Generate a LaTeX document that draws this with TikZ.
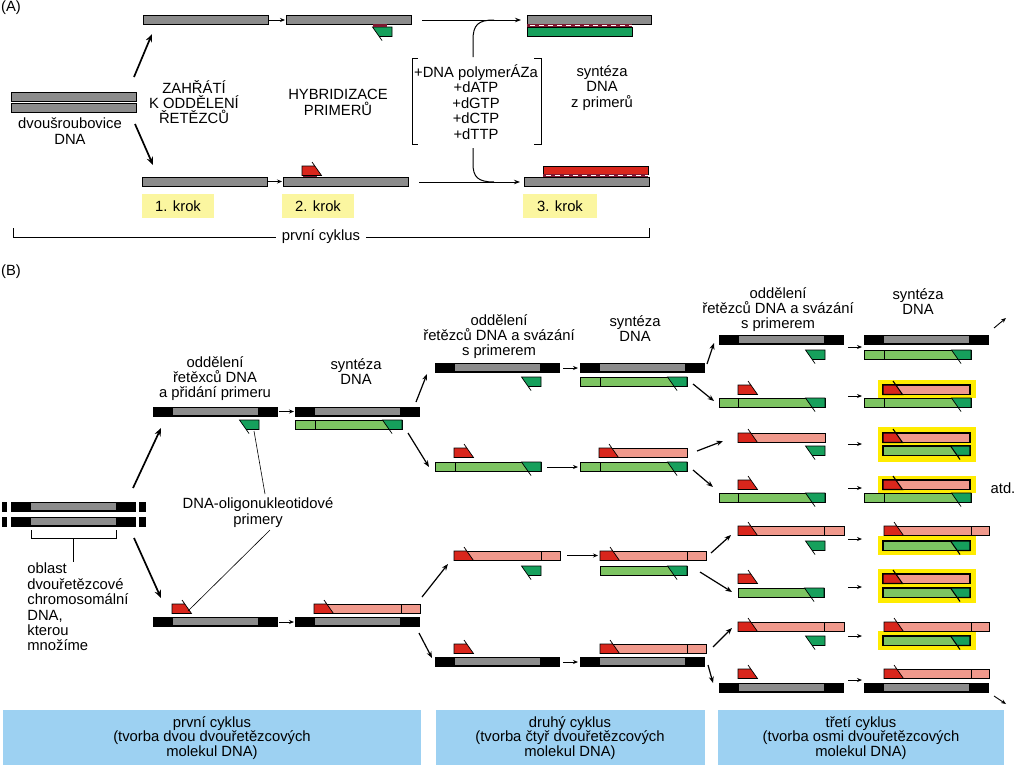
\documentclass[tikz,border=0pt]{standalone}
\usepackage{fontspec}
\setmainfont{Liberation Sans}
\usetikzlibrary{arrows.meta}
\definecolor{mygray}{HTML}{8C8C8C}
\definecolor{lgreen}{HTML}{7DC462}
\definecolor{dgreen}{HTML}{16A05C}
\definecolor{salmon}{HTML}{F0998C}
\definecolor{myred}{HTML}{D9261C}
\definecolor{hlyellow}{HTML}{FFEC00}
\definecolor{ylbox}{HTML}{FBF6A0}
\definecolor{bluebox}{HTML}{9DD1F2}
\definecolor{darkstrip}{HTML}{7D1830}
\newcommand{\tmpl}[2]{%
  \fill[black] (#1,#2) rectangle (#1+125,#2+9.5);
  \fill[mygray] (#1+20,#2+1.1) rectangle (#1+105,#2+8.4);}
\newcommand{\gprim}[2]{%
  \draw[fill=dgreen] (#1,#2) -- (#1,#2+9.5) -- (#1-12.8,#2+9.5) -- (#1-10,#2+13.5) -- (#1-19.5,#2) -- cycle;}
\newcommand{\rprim}[2]{%
  \draw[fill=myred] (#1,#2+9.5) -- (#1,#2) -- (#1+12.8,#2) -- (#1+10,#2-4) -- (#1+19.5,#2+9.5) -- cycle;}
\newcommand{\gstrand}[3]{%
  \draw[fill=lgreen] (#1,#3) rectangle (#2,#3+9.5);
  \gprim{#2}{#3}}
\newcommand{\sstrand}[3]{%
  \draw[fill=salmon] (#1,#3) rectangle (#2,#3+9.5);
  \rprim{#1}{#3}}
\newcommand{\dvd}[2]{\draw (#1,#2) -- (#1,#2+9.5);}
\begin{document}
\begin{tikzpicture}[x=1pt,y=-1pt,line width=0.7pt,
  lab/.style={font=\fontsize{14.8}{15}\selectfont, align=center, inner sep=0pt},
  sa/.style={-{Stealth[length=5pt,width=4pt]}, line width=0.9pt},
  ma/.style={-{Stealth[length=6.5pt,width=5pt]}, line width=1.2pt},
  ba/.style={-{Stealth[length=8pt,width=6.5pt]}, line width=1.7pt}]
\useasboundingbox (0,0) rectangle (1024,779);
\fill[white] (0,0) rectangle (1024,779);
% ================= PART A =================
\node[lab] (A) at (11,8) {(A)};
\draw[fill=mygray] (11,92) rectangle (136,101);
\draw[fill=mygray] (11,103) rectangle (136,112);
\node[lab, font=\fontsize{14.8}{16}\selectfont] (dsdna) at (70,131) {dvoušroubovice\\DNA};
\draw[ba] (134,77) -- (152,34);
\draw[ba] (135,124) -- (153,165);
\draw[fill=mygray] (143,15) rectangle (268,24);
\draw[sa] (269,20) -- (285,20);
\draw[fill=mygray] (286,15) rectangle (411,24);
\gprim{392}{27}
\fill[darkstrip] (373,24.4) rectangle (387,27);
\draw[fill=mygray] (142,177) rectangle (267,186);
\draw[sa] (268,181.5) -- (282,181.5);
\draw[fill=mygray] (283,177) rectangle (408,186);
\rprim{302}{166}
\fill[darkstrip] (303,175.5) rectangle (317,177);
\node[lab] (heat) at (194,102) {ZAHŘÁTÍ\\K ODDĚLENÍ\\ŘETĚZCŮ};
\node[lab, font=\fontsize{14.8}{16}\selectfont] (hyb) at (338,102) {HYBRIDIZACE\\PRIMERŮ};
\node[fill=ylbox, minimum width=72pt, minimum height=24pt, inner sep=0pt, font=\fontsize{14.8}{15}\selectfont] (k1) at (178,206) {1. krok};
\node[fill=ylbox, minimum width=72pt, minimum height=24pt, inner sep=0pt, font=\fontsize{14.8}{15}\selectfont] (k2) at (318,206) {2. krok};
\node[fill=ylbox, minimum width=74pt, minimum height=24pt, inner sep=0pt, font=\fontsize{14.8}{15}\selectfont] (k3) at (560,206) {3. krok};
\draw[line width=1pt, -{Stealth[length=6pt,width=4.5pt]}] (422,20) -- (521,20);
\draw[line width=1pt, -{Stealth[length=6pt,width=4.5pt]}] (419,182) -- (520,182);
\draw[line width=1pt] (473,57) -- (473,40) .. controls (473,25) and (478,20) .. (494,20);
\draw[line width=1pt] (473,148) -- (473,164) .. controls (473,177) and (478,182) .. (494,182);
\draw[line width=0.8pt] (418,58) -- (412,58) -- (412,144) -- (418,144);
\draw[line width=0.8pt] (534,58) -- (541,58) -- (541,144) -- (534,144);
\node[lab, font=\fontsize{14.8}{15.5}\selectfont] (mix) at (476,102) {+DNA polymerÁZa\\+dATP\\+dGTP\\+dCTP\\+dTTP};
\draw[fill=mygray] (527,15) rectangle (651,24);
\fill[darkstrip] (527,24) rectangle (632,27.3);
\draw[white, line width=0.9pt, dash pattern=on 5pt off 4pt] (530,25.7) -- (632,25.7);
\draw[fill=dgreen] (527,27.3) rectangle (632,36);
\draw[fill=myred] (543,166) rectangle (648,174);
\fill[darkstrip] (543,174) rectangle (648,177);
\draw[white, line width=0.9pt, dash pattern=on 5pt off 4pt] (546,175.5) -- (648,175.5);
\draw[fill=mygray] (524,177) rectangle (649,186);
\node[lab, font=\fontsize{14.8}{15.5}\selectfont] (synA) at (602,88) {syntéza\\DNA\\z primerů};
\draw[line width=0.7pt] (13,228) -- (13,237) -- (649,237) -- (649,228);
\node[lab, fill=white, inner xsep=6pt, inner ysep=3pt] (cycA) at (321,237) {první cyklus};
% ================= PART B =================
\node[lab] (B) at (11,272) {(B)};
\foreach \yy in {502,517} {
  \fill (2,\yy) rectangle (7,\yy+9.5);
  \fill (11,\yy) rectangle (136,\yy+9.5);
  \fill[mygray] (31,\yy+1.1) rectangle (116,\yy+8.4);
  \fill (139,\yy) rectangle (146,\yy+9.5);
}
\draw (31,530) -- (31,538) -- (116,538) -- (116,530);
\draw (73.5,538) -- (73.5,562);
\node[lab, align=left, anchor=west, font=\fontsize{14.8}{15.4}\selectfont] (obl) at (27,607) {oblast\\dvouřetězcové\\chromosomální\\DNA,\\kterou\\množíme};
\draw[ba] (133,488) -- (161,428);
\draw[ba] (134,538) -- (161,598);
% cycle 1
\node[lab] (l1) at (215,379) {oddělení\\řetěxců DNA\\a přidání primeru};
\node[lab] (s1) at (356,372) {syntéza\\DNA};
\tmpl{153}{407}
\gprim{259}{420}
\draw[sa] (279,411.5) -- (294,411.5);
\tmpl{295}{407}
\gstrand{295}{402}{420}\dvd{315}{420}
\rprim{172}{604}
\tmpl{153}{617}
\draw[sa] (279,622) -- (294,622);
\sstrand{314}{420}{604}\dvd{401}{604}
\tmpl{295}{617}
\node[lab, font=\fontsize{14.8}{16}\selectfont] (prim) at (258,513) {DNA-oligonukleotidové\\primery};
\draw[line width=0.6pt] (265,494) -- (254,431);
\draw[line width=0.6pt] (270,530) -- (188,611);
% arrows 1->2
\draw[ma] (416,402) -- (427,374);
\draw[ma] (408,433) -- (429,467);
\draw[ma] (422,597) -- (448,564);
\draw[ma] (419,633) -- (432,658);
% cycle 2
\node[lab] (l2) at (499,337) {oddělení\\řetězců DNA a svázání\\s primerem};
\node[lab] (s2) at (635,329) {syntéza\\DNA};
\tmpl{435}{363}
\gprim{541}{377}
\draw[sa] (563,368) -- (578,368);
\tmpl{580}{363}
\gstrand{580}{687}{377}\dvd{600}{377}
\rprim{454}{448}
\gstrand{435}{541}{462}\dvd{455}{462}
\draw[sa] (547,467) -- (578,467);
\sstrand{599}{687}{448}
\gstrand{580}{687}{462}\dvd{600}{462}
\sstrand{454}{560}{551}\dvd{541}{551}
\gprim{541}{566}
\draw[sa] (567,555.5) -- (598,555.5);
\sstrand{600}{706}{551}\dvd{687}{551}
\gstrand{600}{687}{566}
\rprim{454}{644}
\tmpl{435}{657}
\draw[sa] (563,662) -- (578,662);
\sstrand{600}{706}{644}\dvd{687}{644}
\tmpl{580}{657}
% arrows 2->3
\draw[ma] (707,364) -- (714,343);
\draw[ma] (693,384) -- (714,401);
\draw[ma] (697,451) -- (723,441);
\draw[ma] (693,470) -- (713,487);
\draw[ma] (711,553) -- (731,535);
\draw[ma] (700,572) -- (732,592);
\draw[ma] (713,647) -- (732,628);
\draw[ma] (708,665) -- (713,683);
% cycle 3
\node[lab] (l3) at (778,310) {oddělení\\řetězců DNA a svázání\\s primerem};
\node[lab] (s3) at (918,302) {syntéza\\DNA};
% yellow highlights
\fill[hlyellow] (878,380) rectangle (976,398);
\fill[hlyellow] (878,427) rectangle (976,462);
\fill[hlyellow] (878,476) rectangle (976,492.5);
\fill[hlyellow] (878,536) rectangle (976,555);
\fill[hlyellow] (878,569) rectangle (976,603);
\fill[hlyellow] (878,631) rectangle (976,650);
% row 1
\tmpl{719}{335}
\gprim{825}{350}
\draw[sa] (848,347) -- (862,347);
\tmpl{864}{335}
\gstrand{864}{971}{350}\dvd{884}{350}
% row 2
\rprim{738}{385}
\gstrand{719}{825}{398}\dvd{738}{398}
\draw[sa] (848,396) -- (862,396);
\gstrand{864}{971}{398}\dvd{884}{398}
\begin{scope}[line width=1.05pt]
\sstrand{883}{970}{385}
\end{scope}
% row 3
\sstrand{738}{825}{433}
\gprim{825}{446}
\draw[sa] (848,444) -- (862,444);
\begin{scope}[line width=1.05pt]
\sstrand{883}{970}{433}
\gstrand{883}{970}{446}
\end{scope}
% row 4
\rprim{738}{480}
\gstrand{719}{825}{493}\dvd{738}{493}
\draw[sa] (848,488) -- (862,488);
\gstrand{864}{971}{493}\dvd{884}{493}
\begin{scope}[line width=1.05pt]
\sstrand{883}{970}{480}
\end{scope}
\node[lab] (atd) at (1003,488) {atd.};
% row 5
\sstrand{738}{844}{526}\dvd{824}{526}
\gprim{825}{541}
\draw[sa] (848,539) -- (862,539);
\sstrand{884}{989}{526}\dvd{971}{526}
\begin{scope}[line width=1.05pt]
\gstrand{883}{970}{541}
\end{scope}
% row 6
\rprim{738}{574}
\gstrand{738}{824}{588}
\draw[sa] (848,587) -- (862,587);
\begin{scope}[line width=1.05pt]
\sstrand{883}{970}{574}
\gstrand{883}{970}{588}
\end{scope}
% row 7
\sstrand{738}{844}{622}\dvd{824}{622}
\gprim{825}{636}
\draw[sa] (848,636) -- (862,636);
\sstrand{884}{989}{622}\dvd{971}{622}
\begin{scope}[line width=1.05pt]
\gstrand{883}{970}{636}
\end{scope}
% row 8
\rprim{738}{669}
\tmpl{719}{683}
\draw[sa] (848,680) -- (862,680);
\sstrand{884}{989}{669}\dvd{971}{669}
\tmpl{864}{683}
% outgoing
\draw[sa] (994,328) -- (1006,318);
\draw[sa] (994,696) -- (1006,704);
% bottom boxes
\fill[bluebox] (3,710) rectangle (421,765);
\fill[bluebox] (436,710) rectangle (705,765);
\fill[bluebox] (718,710) rectangle (1004,765);
\node[lab, font=\fontsize{14.8}{14.8}\selectfont] (c1) at (212,738) {první cyklus\\(tvorba dvou dvouřetězcových\\molekul DNA)};
\node[lab, font=\fontsize{14.8}{14.8}\selectfont] (c2) at (570,738) {druhý cyklus\\(tvorba čtyř dvouřetězcových\\molekul DNA)};
\node[lab, font=\fontsize{14.8}{14.8}\selectfont] (c3) at (861,738) {třetí cyklus\\(tvorba osmi dvouřetězcových\\molekul DNA)};
\end{tikzpicture}
\end{document}
